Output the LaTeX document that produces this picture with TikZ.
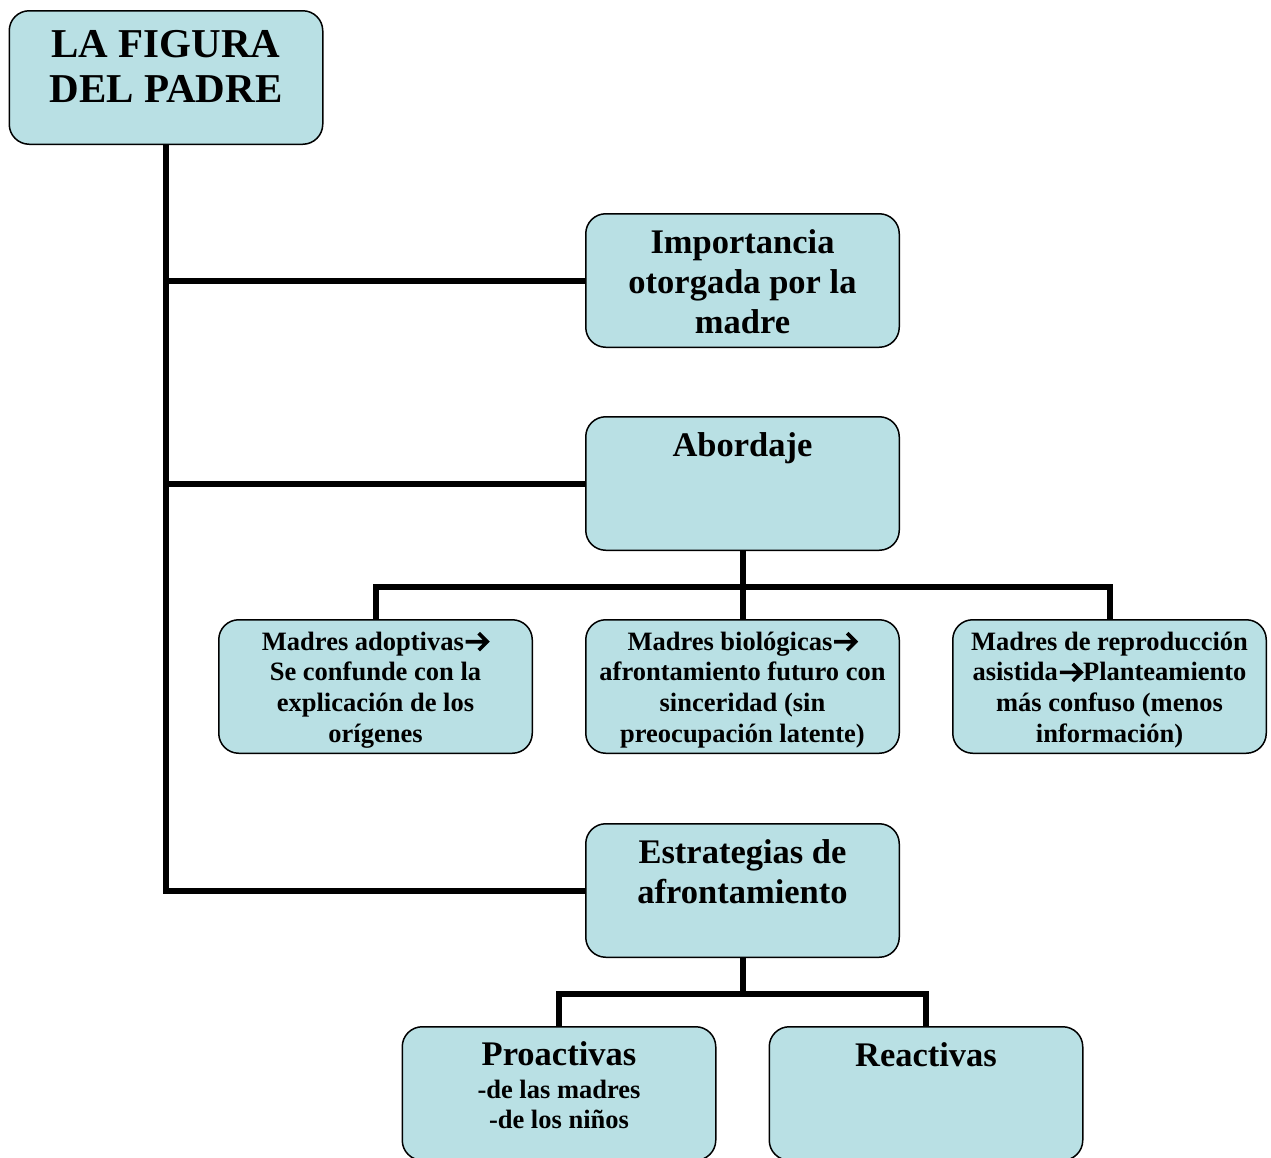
\documentclass[tikz,border=0pt]{standalone}
\usepackage{fontspec}
\setmainfont{Liberation Serif}
\newcommand{\flecha}{\tikz[x=1pt, y=1pt, baseline=0pt]
  \draw[line width=3.6pt, line join=miter] (1, 8.5) -- (22, 8.5)
    (14, 17) -- (22.5, 8.5) -- (14, 0);}
\definecolor{cajafill}{RGB}{185,224,228}
\tikzset{every picture/.style = {x=1pt, y=-1pt}}
\tikzset{caja/.style = {draw, fill=cajafill, line width=1.5pt, rounded corners=20pt,
  minimum width=313.5pt, minimum height=133.5pt, inner sep=0pt}}
\tikzset{rama/.style = {line width=6pt}}
\tikzset{titulo/.style = {anchor=north, align=center, inner sep=0pt,
  font=\bfseries\fontsize{41}{45}\selectfont}}
\tikzset{grande/.style = {anchor=north, align=center, inner sep=0pt,
  font=\bfseries\fontsize{34.5}{40}\selectfont}}
\tikzset{chica/.style = {anchor=north, align=center, inner sep=0pt,
  font=\bfseries\fontsize{26.5}{30.7}\selectfont}}

\begin{document}
\begin{tikzpicture}
  \useasboundingbox (0, 0) rectangle (1271, 1157);
  \clip (0, 0) rectangle (1271, 1157);
  % cajas
  \node[caja] (padre) at (166, 77.5) {};
  \node[caja] (imp) at (742.5, 280.5) {};
  \node[caja] (abor) at (742.5, 483.5) {};
  \node[caja] (adop) at (375.5, 686.5) {};
  \node[caja] (biol) at (742.5, 686.5) {};
  \node[caja] (asis) at (1109.5, 686.5) {};
  \node[caja] (estr) at (742.5, 890.5) {};
  \node[caja] (proa) at (559, 1093.5) {};
  \node[caja] (reac) at (926, 1093.5) {};
  \coordinate (abus) at (742.5, 587);
  \coordinate (ebus) at (742.5, 994);
  % ramas
  \draw[rama] (padre.south) -- (padre.south |- estr.west) -- (estr.west);
  \draw[rama] (padre.south |- imp.west) -- (imp.west);
  \draw[rama] (padre.south |- abor.west) -- (abor.west);
  \draw[rama] (abor.south) -- (abus);
  \draw[rama] (adop.north) |- (abus) -| (asis.north);
  \draw[rama] (abus) -- (biol.north);
  \draw[rama] (estr.south) -- (ebus);
  \draw[rama] (proa.north) |- (ebus) -| (reac.north);
  % textos
  \node[titulo] (padre-t) at ([yshift=-15.5pt]padre.north)
    {\strut LA FIGURA\\ DEL PADRE};
  \node[grande] (imp-t) at ([yshift=-12pt]imp.north)
    {\strut Importancia\\ otorgada por la\\ madre};
  \node[grande] (abor-t) at ([yshift=-12pt]abor.north) {\strut Abordaje};
  \node[chica] (adop-t) at ([yshift=-9.5pt]adop.north)
    {\strut Madres adoptivas\flecha\\ Se confunde con la\\ explicación de los\\ orígenes};
  \node[chica] (biol-t) at ([yshift=-9.5pt]biol.north)
    {\strut Madres biológicas\flecha\\ afrontamiento futuro con\\ sinceridad (sin\\ preocupación latente)};
  \node[chica] (asis-t) at ([yshift=-9.5pt]asis.north)
    {\strut Madres de reproducción\\ asistida\flecha Planteamiento\\ más confuso (menos\\ información)};
  \node[grande] (estr-t) at ([yshift=-12pt]estr.north)
    {\strut Estrategias de\\ afrontamiento};
  \node[grande] (proa-t) at ([yshift=-11pt]proa.north)
    {\strut Proactivas\\[-7pt] \fontsize{26.5}{31}\selectfont -de las madres\\[-10pt]
     \fontsize{26.5}{31}\selectfont -de los niños};
  \node[grande] (reac-t) at ([yshift=-12pt]reac.north) {\strut Reactivas};
\end{tikzpicture}
\end{document}
